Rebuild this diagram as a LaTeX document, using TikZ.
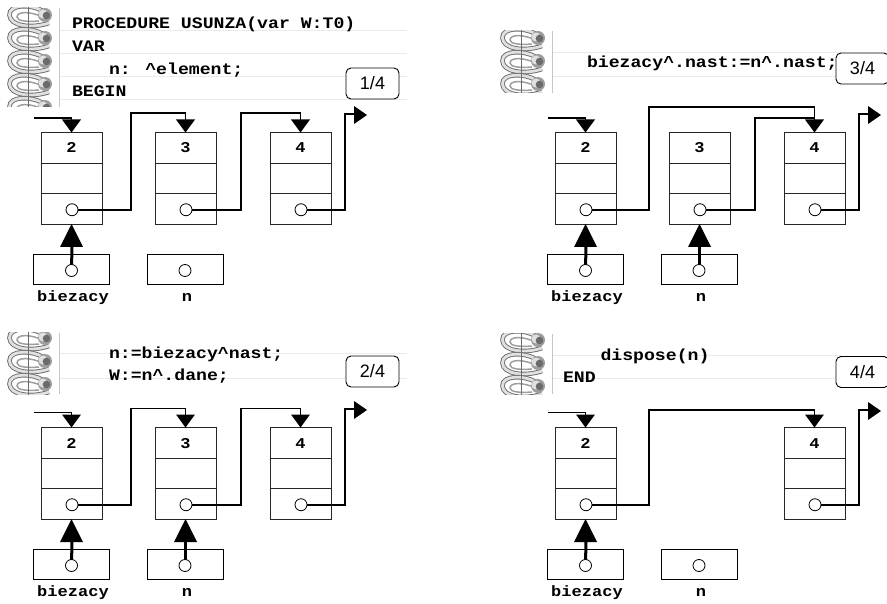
\documentclass[tikz,border=0pt]{standalone}
\usepackage{fontspec}
\setmainfont{Liberation Sans}
\newfontfamily\codefont[FakeStretch=1.135]{Liberation Mono}[BoldFont={Liberation Mono Bold}]
\usetikzlibrary{calc}
\definecolor{noteline}{gray}{0.92}
\definecolor{ringdark}{gray}{0.42}
\definecolor{ringmid}{gray}{0.62}
\definecolor{ringlight}{gray}{0.88}
\tikzset{
  x=1pt,y=-1pt,
  every node/.style={inner sep=0pt,outer sep=0pt},
  cell/.style={draw=black!85,line width=0.9pt,fill=white,rectangle},
  holder/.style={draw=black,line width=1pt,fill=white,rectangle,minimum width=76pt,minimum height=30pt},
  dot/.style={circle,draw=black,line width=0.8pt,fill=white,minimum size=12pt},
  code/.style={font=\codefont\bfseries\fontsize{16}{16}\selectfont,anchor=base west},
  lab/.style={font=\codefont\bfseries\fontsize{15}{16}\selectfont,anchor=base},
  badge/.style={draw=black,line width=0.9pt,rounded corners=5pt,fill=white,minimum width=53pt,minimum height=31pt,font=\fontsize{18}{18}\selectfont},
  link/.style={draw=black,line width=1.8pt,line join=miter},
  pointer/.style={draw=black,line width=3pt},
}
\newcommand{\downhead}[1]{\fill #1 +(-9.5,-13) -- +(9.5,-13) -- +(0,0) -- cycle;}
\newcommand{\righthead}[1]{\fill #1 +(-13,-9) -- +(-13,9) -- +(0,0) -- cycle;}
\newcommand{\uphead}[1]{\fill #1 +(-11.5,23) -- +(11.5,23) -- +(0,0) -- cycle;}
% spiral binding: x, clip top, clip bottom, first ring y, number of rings - 1
\newcommand{\spiral}[5]{%
  \begin{scope}
    \clip (#1,#2) rectangle (#1+51,#3);
    \foreach \k in {0,...,#5}{
      \begin{scope}[shift={(#1,#4+23*\k)}]
        \draw[ringdark,line width=4.6pt] (36,3) .. controls (24,-4) and (2,-4) .. (2.5,7) .. controls (3,18) and (24,21) .. (42,15);
        \draw[ringlight,line width=2.8pt] (36,3) .. controls (24,-4) and (2,-4) .. (2.5,7) .. controls (3,18) and (24,21) .. (42,15);
        \draw[ringmid,line width=1.5pt] (38,10) .. controls (24,3) and (10,3) .. (10,9) .. controls (10,13) and (20,14) .. (32,13);
        \draw[ringdark,line width=0.8pt] (21,-3) -- (21,19);
        \fill[ringmid] (38,7) circle (7);
        \fill[ringlight] (36,6) circle (4.5);
        \fill[ringdark] (39.5,7.5) circle (3.8);
      \end{scope}
    }
  \end{scope}
  \draw[black!22,line width=0.8pt] (#1+52,#2) -- (#1+52,#3);
}
\newcommand{\cellstack}[4]{% name, left x, dy, value
  \node[cell,anchor=north west,minimum width=61pt,minimum height=31pt] (#1a) at (#2,132.5+#3) {};
  \node[cell,anchor=north west,minimum width=61pt,minimum height=30pt] (#1b) at (#2,163.5+#3) {};
  \node[cell,anchor=north west,minimum width=61pt,minimum height=30.5pt] (#1c) at (#2,193.5+#3) {};
  \node[lab] at (#2+30.5,153+#3) {#4};
  \node[dot] (#1p) at ($(#1c.center)+(0.5,1)$) {};
}
\newcommand{\holders}[3]{% prefix, dx, dy
  \node[holder] (#1B) at (71.5+#2,269.5+#3) {};
  \node[holder] (#1N) at (185+#2,269.5+#3) {};
  \node[lab] at (73+#2,301.5+#3) {biezacy};
  \node[lab] at (187+#2,301.5+#3) {n};
}
\begin{document}
\begin{tikzpicture}
\useasboundingbox (0,0) rectangle (887,604);

% ----- Panel 1 -----
\spiral{7}{8}{107}{8}{4}
\foreach \y in {30,53,76,99}{\draw[noteline,line width=0.8pt] (60,\y) -- (407,\y);}
\node[code] at (72,29) {PROCEDURE USUNZA(var W:T0)};
\node[code] at (72,52) {VAR};
\node[code] at (109,75) {n: \char94 element;};
\node[code] at (72,97) {BEGIN};
\node[badge] (b1) at (372.5,83.5) {1/4};
\cellstack{pa}{41}{0}{2}
\cellstack{pb}{155}{0}{3}
\cellstack{pc}{270}{0}{4}
\holders{p}{0}{0}
\coordinate (p1) at (34,118);
\draw[link] (p1) -| (paa.north);
\draw[link] (pap.east) -| (131,113) -| (pba.north);
\draw[link] (pbp.east) -| (241,113) -| (pca.north);
\draw[link] (pcp.east) -| (345,114) -- (358,114);
\downhead{(paa.north)}\downhead{(pba.north)}\downhead{(pca.north)}
\righthead{(367,115)}
\uphead{(pac.south)}
\draw[pointer] (pB.center) -- (72,246);
\node[dot] at ($(pB.center)+(0,1)$) {};
\node[dot] at ($(pN.center)+(0,1)$) {};

% ----- Panel 2 -----
\spiral{7}{333}{394}{331}{2}
\foreach \y in {353,378}{\draw[noteline,line width=0.8pt] (60,\y) -- (407,\y);}
\node[code] at (109,359) {n:=biezacy\char94 nast;};
\node[code] at (109,381) {W:=n\char94 .dane;};
\node[badge] (b2) at (372.5,371.5) {2/4};
\cellstack{qa}{41}{295}{2}
\cellstack{qb}{155}{295}{3}
\cellstack{qc}{270}{295}{4}
\holders{q}{0}{295}
\coordinate (q1) at (34,412.5);
\draw[link] (q1) -| (qaa.north);
\draw[link] (qap.east) -| (131,408.5) -| (qba.north);
\draw[link] (qbp.east) -| (241,408.5) -| (qca.north);
\draw[link] (qcp.east) -| (345,409) -- (358,409);
\downhead{(qaa.north)}\downhead{(qba.north)}\downhead{(qca.north)}
\righthead{(367,410)}
\uphead{(qac.south)}
\uphead{(qbc.south)}
\draw[pointer] (qB.center) -- (72,541);
\draw[pointer] (qN.center) -- (185,541);
\node[dot] at ($(qB.center)+(0,1)$) {};
\node[dot] at ($(qN.center)+(0,1)$) {};

% ----- Panel 3 -----
\spiral{500}{31}{93}{31}{2}
\foreach \y in {52.5,76}{\draw[noteline,line width=0.8pt] (553,\y) -- (842,\y);}
\node[code] at (587,68) {biezacy\char94 .nast:=n\char94 .nast;};
\node[badge] (b3) at (862.5,68.5) {3/4};
\cellstack{ra}{555}{0}{2}
\cellstack{rb}{669}{0}{3}
\cellstack{rc}{784}{0}{4}
\holders{r}{514}{0}
\coordinate (r1) at (548,118);
\draw[link] (r1) -| (raa.north);
\draw[link] (rap.east) -| (649,107) -| (rca.north);
\draw[link] (rbp.east) -| (755,118) -- (rca.north |- 0,118);
\draw[link] (rcp.east) -| (859,114) -- (872,114);
\downhead{(raa.north)}\downhead{(rca.north)}
\righthead{(881,115)}
\uphead{(rac.south)}
\uphead{(rbc.south)}
\draw[pointer] (rB.center) -- (586,246);
\draw[pointer] (rN.center) -- (699,246);
\node[dot] at ($(rB.center)+(0,1)$) {};
\node[dot] at ($(rN.center)+(0,1)$) {};

% ----- Panel 4 -----
\spiral{500}{334}{394}{333}{2}
\foreach \y in {355,378}{\draw[noteline,line width=0.8pt] (553,\y) -- (842,\y);}
\node[code] at (600.5,360) {dispose(n)};
\node[code] at (563,382) {END};
\node[badge] (b4) at (862.5,372) {4/4};
\cellstack{sa}{555}{295}{2}
\cellstack{sc}{784}{295}{4}
\holders{s}{514}{295}
\coordinate (s1) at (548,412.5);
\draw[link] (s1) -| (saa.north);
\draw[link] (sap.east) -| (649,410) -| (sca.north);
\draw[link] (scp.east) -| (859,410) -- (872,410);
\downhead{(saa.north)}\downhead{(sca.north)}
\righthead{(881,411)}
\uphead{(sac.south)}
\draw[pointer] (sB.center) -- (586,541);
\node[dot] at ($(sB.center)+(0,1)$) {};
\node[dot] at ($(sN.center)+(0,1)$) {};
\end{tikzpicture}
\end{document}
